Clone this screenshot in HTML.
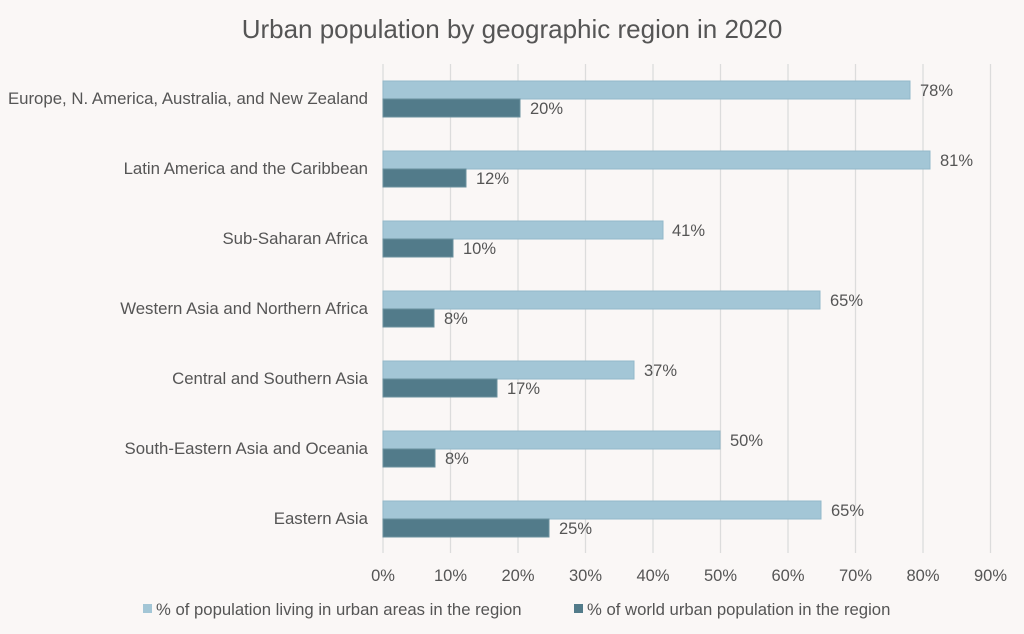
<!DOCTYPE html><html><head><style>body{margin:0;background:#faf7f6}svg{display:block}text{font-family:"Liberation Sans",sans-serif;fill:#555}</style></head><body>
<svg width="1024" height="634" xmlns="http://www.w3.org/2000/svg">
<rect width="1024" height="634" fill="#faf7f6"/>
<text x="512" y="38" font-size="26" text-anchor="middle" fill="#595959">Urban population by geographic region in 2020</text>
<g stroke="#dcdcdc" stroke-width="1.3">
<line x1="383" y1="64" x2="383" y2="553"/><line x1="450.5" y1="64" x2="450.5" y2="553"/><line x1="518" y1="64" x2="518" y2="553"/><line x1="585.5" y1="64" x2="585.5" y2="553"/><line x1="653" y1="64" x2="653" y2="553"/><line x1="720.5" y1="64" x2="720.5" y2="553"/><line x1="788" y1="64" x2="788" y2="553"/><line x1="855.5" y1="64" x2="855.5" y2="553"/><line x1="923" y1="64" x2="923" y2="553"/><line x1="990.5" y1="64" x2="990.5" y2="553"/>
</g>
<g font-size="16.5" text-anchor="middle">
<text x="383" y="581">0%</text><text x="450.5" y="581">10%</text><text x="518" y="581">20%</text><text x="585.5" y="581">30%</text><text x="653" y="581">40%</text><text x="720.5" y="581">50%</text><text x="788" y="581">60%</text><text x="855.5" y="581">70%</text><text x="923" y="581">80%</text><text x="990.5" y="581">90%</text>
</g>
<g font-size="16.8" text-anchor="end">
<text x="368" y="104">Europe, N. America, Australia, and New Zealand</text>
<text x="368" y="174">Latin America and the Caribbean</text>
<text x="368" y="244">Sub-Saharan Africa</text>
<text x="368" y="314">Western Asia and Northern Africa</text>
<text x="368" y="384">Central and Southern Asia</text>
<text x="368" y="454">South-Eastern Asia and Oceania</text>
<text x="368" y="524">Eastern Asia</text>
</g>
<g fill="#a3c6d6" stroke="#93b8c9" stroke-width="1">
<rect x="383" y="81" width="527" height="18"/>
<rect x="383" y="151" width="547" height="18"/>
<rect x="383" y="221" width="280" height="18"/>
<rect x="383" y="291" width="437" height="18"/>
<rect x="383" y="361" width="251" height="18"/>
<rect x="383" y="431" width="337" height="18"/>
<rect x="383" y="501" width="438" height="18"/>
</g>
<g fill="#527b8a" stroke="#6a909e" stroke-width="1">
<rect x="383" y="99" width="137" height="18"/>
<rect x="383" y="169" width="83" height="18"/>
<rect x="383" y="239" width="70" height="18"/>
<rect x="383" y="309" width="51" height="18"/>
<rect x="383" y="379" width="114" height="18"/>
<rect x="383" y="449" width="52" height="18"/>
<rect x="383" y="519" width="166" height="18"/>
</g>
<g font-size="16.5">
<text x="920" y="96">78%</text><text x="940" y="166">81%</text><text x="672" y="236">41%</text><text x="830" y="306">65%</text><text x="644" y="376">37%</text><text x="730" y="446">50%</text><text x="831" y="516">65%</text>
<text x="530" y="114">20%</text><text x="476" y="184">12%</text><text x="463" y="254">10%</text><text x="444" y="324">8%</text><text x="507" y="394">17%</text><text x="445" y="464">8%</text><text x="559" y="534">25%</text>
</g>
<rect x="143" y="604" width="9" height="9" fill="#a3c6d6"/>
<text x="156" y="615" font-size="16.7">% of population living in urban areas in the region</text>
<rect x="574" y="604" width="9" height="9" fill="#527b8a"/>
<text x="587" y="615" font-size="16.7">% of world urban population in the region</text>
</svg></body></html>
